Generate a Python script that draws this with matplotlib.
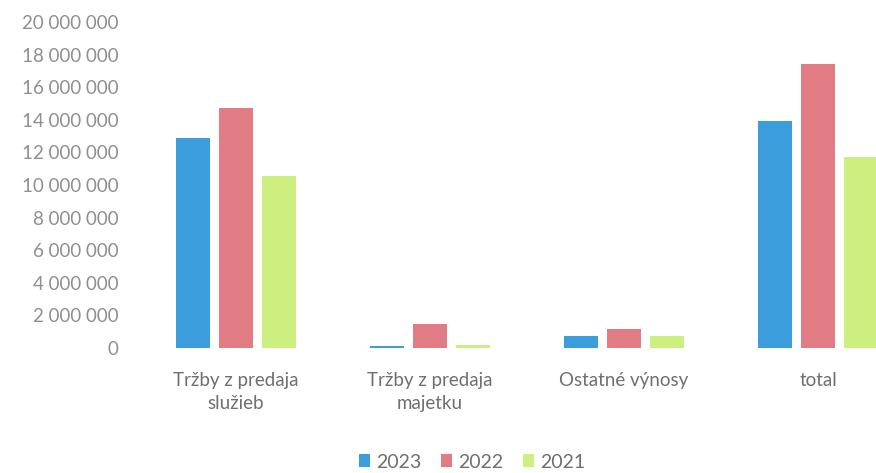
import matplotlib
matplotlib.use("Agg")
import matplotlib.pyplot as plt
import numpy as np
from matplotlib.ticker import FuncFormatter, MultipleLocator

plt.rcParams['font.family'] = ['Lato', 'DejaVu Sans']

categories = ["Tržby z predaja\nslužieb", "Tržby z predaja\nmajetku", "Ostatné výnosy", "total"]
years = ["2023", "2022", "2021"]
v2023 = [12900000, 100000, 740000, 13900000]
v2022 = [14700000, 1470000, 1170000, 17400000]
v2021 = [10550000, 200000, 720000, 11700000]
colors = ["#3B9DDB", "#E27C84", "#CDEF7F"]

fig = plt.figure(figsize=(8.76, 4.73), dpi=100)
ax = fig.add_axes([139/876, (473-348)/473, (915-139)/876, (348-22)/473])

x = np.arange(len(categories))
offsets = [-0.222, 0.0, 0.222]
w = 0.175
for vals, off, c, lab in zip([v2023, v2022, v2021], offsets, colors, years):
    ax.bar(x + off, vals, width=w, color=c, label=lab)

ax.set_xlim(-0.5, 3.5)
ax.set_ylim(0, 20000000)
ax.yaxis.set_major_locator(MultipleLocator(2000000))
ax.yaxis.set_major_formatter(FuncFormatter(lambda v, p: f"{int(v):,}".replace(",", " ")))
ax.set_xticks(x)
ax.set_xticklabels(categories, fontsize=13.5, color="#6f6f6f", linespacing=1.45)
for s in ax.spines.values():
    s.set_visible(False)
ax.tick_params(axis='both', length=0)
ax.tick_params(axis='y', labelsize=13.5, labelcolor="#8f8f8f", pad=15)
ax.tick_params(axis='x', pad=17)

leg = fig.legend(loc='center', bbox_to_anchor=(472/876, 1 - 462/473), ncol=3, frameon=False,
                 fontsize=14, handlelength=0.6, handleheight=0.6, handletextpad=0.3,
                 columnspacing=1.0)
for t in leg.get_texts():
    t.set_color("#6f6f6f")

fig.savefig("out.png", dpi=100)
